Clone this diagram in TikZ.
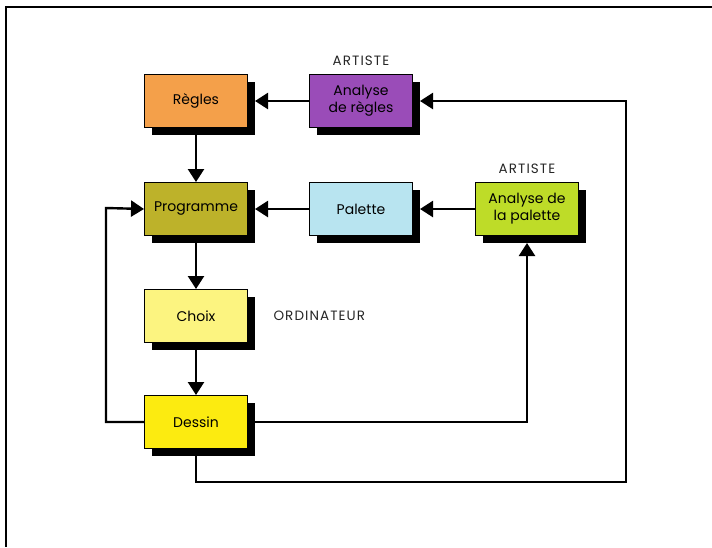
\documentclass[tikz,border=0pt]{standalone}
\usepackage{fontspec}
\setmainfont{Poppins}
\newfontfamily\espace[LetterSpace=8]{Poppins}
\usepackage{tikz}
\usetikzlibrary{arrows.meta,positioning,shadows}
\definecolor{orange}{HTML}{F4A04A}
\definecolor{violet}{HTML}{9A4CB8}
\definecolor{olive}{HTML}{BDB22A}
\definecolor{ciel}{HTML}{B8E4F0}
\definecolor{anis}{HTML}{BEDC28}
\definecolor{paille}{HTML}{FCF480}
\definecolor{citron}{HTML}{FCEB10}
\tikzset{
  boite/.style={rectangle, draw=black, line width=1pt, align=center, font=\fontsize{14}{17}\selectfont,
                minimum width=103pt, minimum height=53pt, inner sep=2pt,
                drop shadow={shadow xshift=7pt, shadow yshift=-7pt, opacity=1, fill=black}},
  lbl/.style={font=\espace\fontsize{13.5}{16}\selectfont, text=black!85},
  fleche/.style={-{Triangle[length=13pt,width=16pt]}, draw=black, line width=2.4pt},
}
\begin{document}
\begin{tikzpicture}[x=1pt, y=-1pt, node distance=54pt and 61pt]
  \useasboundingbox (0,0) rectangle (712,547);
  \draw[line width=1.8pt] (712,7) -- (6,7) -- (6,547);
  \node[boite, fill=orange] (regles) at (196,101) {Règles};
  \node[boite, fill=violet, right=61pt of regles] (anaregles) {Analyse\\de règles};
  \node[boite, fill=olive, below=54pt of regles] (programme) {Programme};
  \node[boite, fill=ciel, right=61pt of programme] (palette) {Palette};
  \node[boite, fill=anis, right=62pt of palette] (anapalette) {Analyse de\\la palette};
  \node[boite, fill=paille, below=53pt of programme] (choix) {Choix};
  \node[boite, fill=citron, below=52pt of choix] (dessin) {Dessin};
  \node[lbl, above=5pt of anaregles] (artiste1) {ARTISTE};
  \node[lbl, above=5pt of anapalette] (artiste2) {ARTISTE};
  \node[lbl, right=22pt of choix] (ordinateur) {ORDINATEUR};
  \draw[fleche] (anaregles) -- ([xshift=7pt]regles.east);
  \draw[fleche] (regles) -- (programme);
  \draw[fleche] (palette) -- ([xshift=7pt]programme.east);
  \draw[fleche] (anapalette) -- ([xshift=7pt]palette.east);
  \draw[fleche] (programme) -- (choix);
  \draw[fleche] (choix) -- (dessin);
  \draw[fleche] (dessin.west) -| (106,208) -- (programme.west);
  \draw[fleche] ([xshift=7pt]dessin.east) -| ([yshift=-7pt]anapalette.south);
  \draw[fleche] ([yshift=-7pt]dessin.south) |- (626,482) |- ([xshift=7pt]anaregles.east);
\end{tikzpicture}
\end{document}
